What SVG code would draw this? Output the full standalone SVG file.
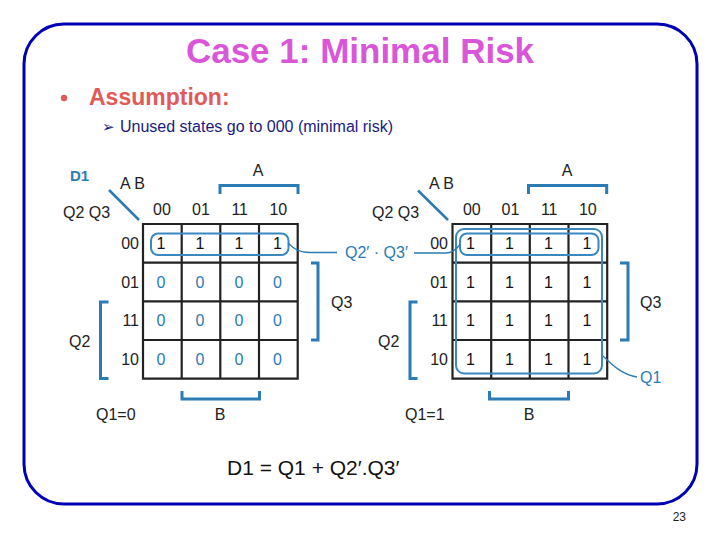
<svg xmlns="http://www.w3.org/2000/svg" width="720" height="540" viewBox="0 0 720 540">
<style>
  text { font-family: "Liberation Sans", Arial, sans-serif; }
  .title { font-size: 35px; font-weight: bold; fill: #D956D9; }
  .assump { font-size: 23px; font-weight: bold; fill: #E05A5A; }
  .sub { font-size: 16px; fill: #1A1A80; }
  .k { font-size: 16px; fill: #222; }
  .kb { font-size: 16px; fill: #2B7BB5; }
  .v1 { font-size: 16px; fill: #111; text-anchor: middle; }
  .v0 { font-size: 16px; fill: #2B7BB5; text-anchor: middle; }
  .mid { text-anchor: middle; }
  .end { text-anchor: end; }
  .grid { fill: none; stroke: #222; stroke-width: 2.2; }
  .br { fill: none; stroke: #2B7BB5; stroke-width: 3; }
  .loop { fill: none; stroke: #3A88BF; stroke-width: 2; }
  .conn { fill: none; stroke: #2B7BB5; stroke-width: 1.3; }
</style>

<rect id="frame" x="24" y="24" width="673" height="480" rx="40" ry="40" fill="none" stroke="#0000B4" stroke-width="3"/>

<g id="title">
  <text class="title mid" x="360" y="63">Case 1: Minimal Risk</text>
</g>

<g id="assumption">
  <circle cx="64" cy="98" r="3.2" fill="#E05A5A"/>
  <text class="assump" x="89" y="105">Assumption:</text>
  <text class="sub" x="102" y="132" style="font-family: 'DejaVu Sans', sans-serif; font-size: 15px;">➢</text>
  <text class="sub" x="120" y="132">Unused states go to 000 (minimal risk)</text>
</g>

<g id="kmap-left">
  <text x="70" y="181" style="font-size:15px;font-weight:bold;fill:#2B7BB5">D1</text>
  <text class="k" x="120" y="189">A B</text>
  <text class="k" x="63" y="218">Q2 Q3</text>
  <line x1="109" y1="190" x2="139" y2="220" stroke="#2B7BB5" stroke-width="2.5"/>
  <text class="k mid" x="258" y="176">A</text>
  <path class="br" d="M220,194 V185.5 H298 V194"/>
  <text class="k mid" x="162" y="215">00</text>
  <text class="k mid" x="201" y="215">01</text>
  <text class="k mid" x="239.7" y="215">11</text>
  <text class="k mid" x="278.3" y="215">10</text>
  <text class="k end" x="139" y="249">00</text>
  <text class="k end" x="139" y="287.5">01</text>
  <text class="k end" x="139" y="326">11</text>
  <text class="k end" x="139" y="365">10</text>
  <path class="grid" d="M143,224 H297.7 V378.7 H143 Z M181.7,224 V378.7 M220.3,224 V378.7 M259,224 V378.7 M143,262.7 H297.7 M143,301.3 H297.7 M143,340 H297.7"/>
  <text class="v1" x="161" y="249">1</text>
  <text class="v1" x="200" y="249">1</text>
  <text class="v1" x="239" y="249">1</text>
  <text class="v1" x="277.5" y="249">1</text>
  <text class="v0" x="161" y="287.5">0</text>
  <text class="v0" x="200" y="287.5">0</text>
  <text class="v0" x="239" y="287.5">0</text>
  <text class="v0" x="277.5" y="287.5">0</text>
  <text class="v0" x="161" y="326">0</text>
  <text class="v0" x="200" y="326">0</text>
  <text class="v0" x="239" y="326">0</text>
  <text class="v0" x="277.5" y="326">0</text>
  <text class="v0" x="161" y="365">0</text>
  <text class="v0" x="200" y="365">0</text>
  <text class="v0" x="239" y="365">0</text>
  <text class="v0" x="277.5" y="365">0</text>
  <rect class="loop" x="151" y="233.5" width="137.5" height="21.5" rx="7"/>
  <path class="br" d="M311,263 H318 V340 H311"/>
  <text class="k" x="331" y="308">Q3</text>
  <path class="br" d="M108.5,302 H100.5 V378.5 H108.5"/>
  <text class="k" x="69" y="347">Q2</text>
  <path class="br" d="M182,391 V399 H259.5 V391"/>
  <text class="k mid" x="220" y="420">B</text>
  <text class="k" x="96" y="420">Q1=0</text>
</g>

<g id="kmap-right">
  <text class="k" x="429" y="189">A B</text>
  <text class="k" x="372" y="218">Q2 Q3</text>
  <line x1="418" y1="190.5" x2="448" y2="220" stroke="#2B7BB5" stroke-width="2.5"/>
  <text class="k mid" x="567" y="176">A</text>
  <path class="br" d="M528.5,194 V185.5 H606.7 V194"/>
  <text class="k mid" x="471.8" y="215">00</text>
  <text class="k mid" x="510.5" y="215">01</text>
  <text class="k mid" x="549.2" y="215">11</text>
  <text class="k mid" x="587.8" y="215">10</text>
  <text class="k end" x="448" y="249">00</text>
  <text class="k end" x="448" y="287.5">01</text>
  <text class="k end" x="448" y="326">11</text>
  <text class="k end" x="448" y="365">10</text>
  <path class="grid" d="M452.5,224 H607.2 V378.7 H452.5 Z M491.2,224 V378.7 M529.8,224 V378.7 M568.5,224 V378.7 M452.5,262.7 H607.2 M452.5,301.3 H607.2 M452.5,340 H607.2"/>
  <text class="v1" x="470.5" y="249">1</text>
  <text class="v1" x="509.5" y="249">1</text>
  <text class="v1" x="548.5" y="249">1</text>
  <text class="v1" x="587" y="249">1</text>
  <text class="v1" x="470.5" y="287.5">1</text>
  <text class="v1" x="509.5" y="287.5">1</text>
  <text class="v1" x="548.5" y="287.5">1</text>
  <text class="v1" x="587" y="287.5">1</text>
  <text class="v1" x="470.5" y="326">1</text>
  <text class="v1" x="509.5" y="326">1</text>
  <text class="v1" x="548.5" y="326">1</text>
  <text class="v1" x="587" y="326">1</text>
  <text class="v1" x="470.5" y="365">1</text>
  <text class="v1" x="509.5" y="365">1</text>
  <text class="v1" x="548.5" y="365">1</text>
  <text class="v1" x="587" y="365">1</text>
  <rect class="loop" x="460" y="233.5" width="138.5" height="21.5" rx="7"/>
  <rect class="loop" x="456" y="229" width="146" height="144.5" rx="8"/>
  <path class="br" d="M620,263 H628 V340 H620"/>
  <text class="k" x="640" y="308">Q3</text>
  <path class="br" d="M417.5,302 H410 V378.5 H417.5"/>
  <text class="k" x="378" y="347">Q2</text>
  <path class="br" d="M489.5,391 V399 H568.5 V391"/>
  <text class="k mid" x="529" y="420">B</text>
  <text class="k" x="405" y="420">Q1=1</text>
</g>

<g id="label-q2q3">
  <text class="kb" x="345" y="258">Q2′ · Q3′</text>
</g>

<g id="label-q1">
  <text class="kb" x="640" y="383">Q1</text>
</g>

<g id="connectors">
  <path class="conn" d="M288,243 C294,249 299,252.5 310,252.5 L337,252.5"/>
  <path class="conn" d="M414,253 L446,253 C452,253 456,250 460.5,244"/>
  <path class="conn" d="M603,356 C614,367 624,375 637,377"/>
</g>

<g id="formula">
  <text x="227" y="475" style="font-size:21px;fill:#111">D1 = Q1 + Q2′.Q3′</text>
</g>

<text x="686" y="521" class="end" style="font-size:12px;fill:#222">23</text>
</svg>
